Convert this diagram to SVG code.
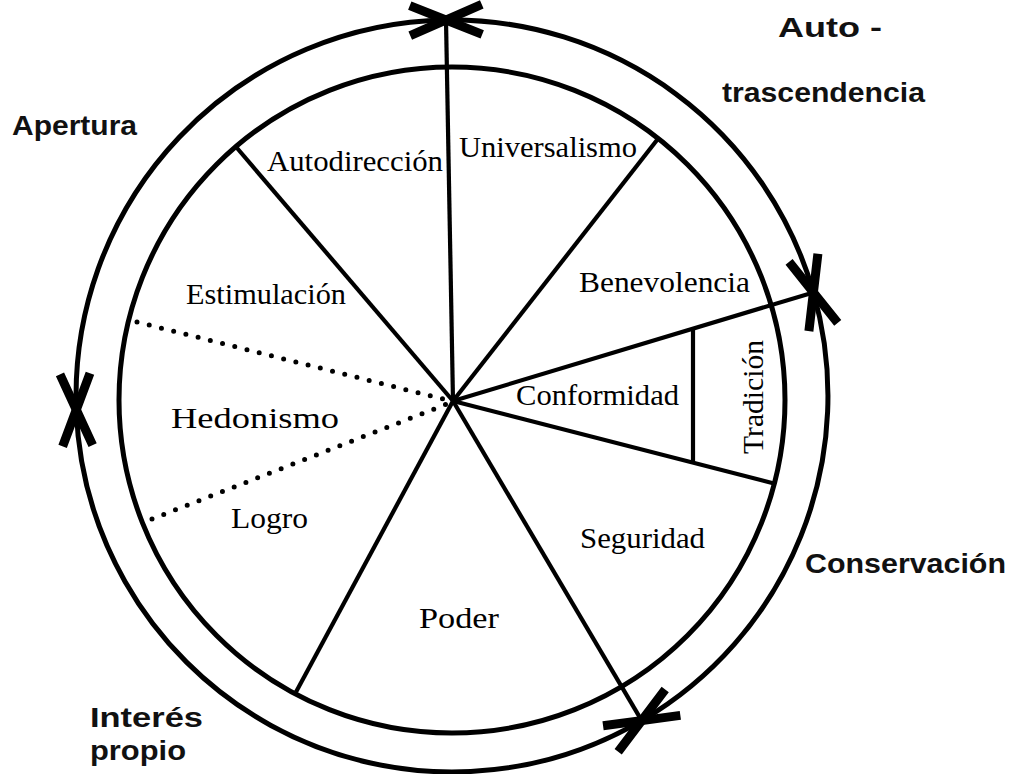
<svg xmlns="http://www.w3.org/2000/svg" width="1013" height="774" viewBox="0 0 1013 774">
  <style>
    .ring { fill: none; stroke: #000; stroke-width: 5; }
    .spoke { fill: none; stroke: #000; stroke-width: 4.2; }
    .dots { fill: none; stroke: #000; stroke-width: 5; stroke-linecap: round; stroke-dasharray: 0 12.6; }
    .val { font-family: "Liberation Serif", "Times New Roman", serif; font-size: 29px; fill: #000; }
    .dim { font-family: "Liberation Sans", Arial, sans-serif; font-weight: bold; font-size: 28px; fill: #111; }
  </style>
  <defs>
    <marker id="chev" markerUnits="userSpaceOnUse" markerWidth="90" markerHeight="90" viewBox="-60 -45 90 90" refX="0" refY="0" orient="auto-start-reverse" overflow="visible">
      <path d="M -36 -15 L 0 0 L -36 15" fill="none" stroke="#000" stroke-width="9" stroke-linejoin="miter"/>
    </marker>
  </defs>
  <rect width="1013" height="774" fill="#fff"/>

  <g id="inner-circle">
    <circle class="ring" cx="452" cy="400" r="333"/>
  </g>

  <g id="outer-arcs">
    <path id="arc-apertura" class="ring" d="M 76.3 409.8 A 376 376 0 0 1 446 20" marker-start="url(#chev)" marker-end="url(#chev)"/>
    <path id="arc-autotrascendencia" class="ring" d="M 446 20 A 376 376 0 0 1 813.4 292.4" marker-start="url(#chev)" marker-end="url(#chev)"/>
    <path id="arc-conservacion" class="ring" d="M 813.4 292.4 A 376 376 0 0 1 641.7 720.6" marker-start="url(#chev)" marker-end="url(#chev)"/>
    <path id="arc-interes" class="ring" d="M 641.7 720.6 A 376 376 0 0 1 76.3 409.8" marker-start="url(#chev)" marker-end="url(#chev)"/>
  </g>

  <g id="connectors">
    <line class="spoke" x1="453" y1="401" x2="446" y2="20"/>
    <line class="spoke" x1="453" y1="401" x2="237" y2="148"/>
    <line class="spoke" x1="453" y1="401" x2="657" y2="140"/>
    <line class="spoke" x1="453" y1="401" x2="813.4" y2="292.4"/>
    <line class="spoke" x1="453" y1="401" x2="776" y2="484"/>
    <line class="spoke" x1="453" y1="401" x2="641.7" y2="720.6"/>
    <line class="spoke" x1="453" y1="401" x2="296" y2="692"/>
    <line class="spoke" x1="693" y1="328.3" x2="693" y2="462.7"/>
    <line class="dots" x1="137" y1="322" x2="447" y2="400"/>
    <line class="dots" x1="152" y1="519" x2="447" y2="404"/>
  </g>

  <g id="node-autodireccion"><text class="val" x="267" y="171" textLength="176" lengthAdjust="spacingAndGlyphs">Autodirección</text></g>
  <g id="node-universalismo"><text class="val" x="459" y="157" textLength="178" lengthAdjust="spacingAndGlyphs">Universalismo</text></g>
  <g id="node-estimulacion"><text class="val" x="186" y="304" textLength="160" lengthAdjust="spacingAndGlyphs">Estimulación</text></g>
  <g id="node-benevolencia"><text class="val" x="579" y="292" textLength="171" lengthAdjust="spacingAndGlyphs">Benevolencia</text></g>
  <g id="node-conformidad"><text class="val" x="516" y="405" textLength="163" lengthAdjust="spacingAndGlyphs">Conformidad</text></g>
  <g id="node-tradicion"><text class="val" transform="translate(763 454) rotate(-90)" x="0" y="0" textLength="114" lengthAdjust="spacingAndGlyphs">Tradición</text></g>
  <g id="node-hedonismo"><text class="val" x="171" y="428" textLength="168" lengthAdjust="spacingAndGlyphs">Hedonismo</text></g>
  <g id="node-logro"><text class="val" x="231" y="528" textLength="77" lengthAdjust="spacingAndGlyphs">Logro</text></g>
  <g id="node-seguridad"><text class="val" x="580" y="548" textLength="125" lengthAdjust="spacingAndGlyphs">Seguridad</text></g>
  <g id="node-poder"><text class="val" x="419" y="628" textLength="80" lengthAdjust="spacingAndGlyphs">Poder</text></g>

  <g id="label-apertura"><text class="dim" x="12" y="135" textLength="125" lengthAdjust="spacingAndGlyphs">Apertura</text></g>
  <g id="label-autotrascendencia">
    <text class="dim" x="778" y="37" textLength="104" lengthAdjust="spacingAndGlyphs">Auto -</text>
    <text class="dim" x="722" y="102" textLength="203" lengthAdjust="spacingAndGlyphs">trascendencia</text>
  </g>
  <g id="label-conservacion"><text class="dim" x="805" y="573" textLength="201" lengthAdjust="spacingAndGlyphs">Conservación</text></g>
  <g id="label-interes">
    <text class="dim" x="90" y="727" textLength="113" lengthAdjust="spacingAndGlyphs">Interés</text>
    <text class="dim" x="90" y="760" textLength="96" lengthAdjust="spacingAndGlyphs">propio</text>
  </g>
</svg>
